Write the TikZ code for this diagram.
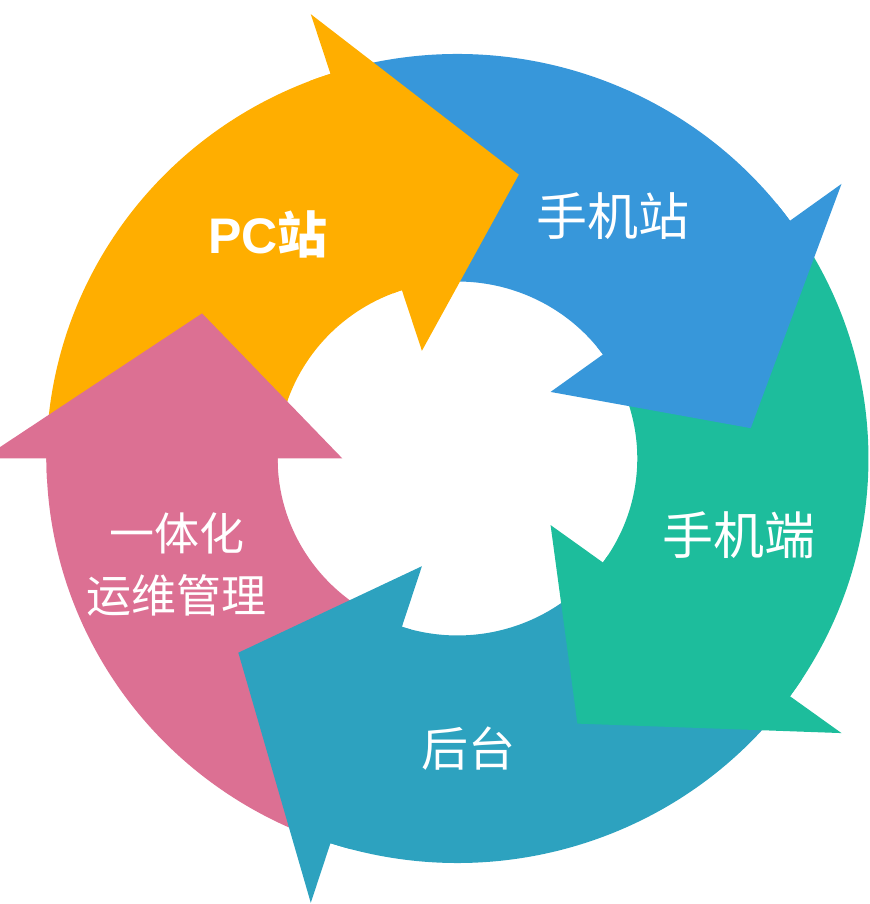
\documentclass[tikz,border=0pt]{standalone}
\usepackage{fontspec}
\setmainfont{Liberation Sans}
\newfontfamily\cjkfont{Noto Sans CJK SC}
\definecolor{pcorange}{RGB}{255,174,0}
\definecolor{siteblue}{RGB}{55,151,218}
\definecolor{appgreen}{RGB}{29,189,156}
\definecolor{backteal}{RGB}{45,162,191}
\definecolor{opspink}{RGB}{220,112,147}
\tikzset{tag/.style={white, inner sep=0pt, align=center, font=\cjkfont\fontsize{51}{60}\selectfont}}
\tikzset{smalltag/.style={tag, font=\cjkfont\fontsize{45}{62}\selectfont}}

\begin{document}
\begin{tikzpicture}[x=411pt, y=404.5pt]
\path [use as bounding box] (-1.1131,-1.1014) rectangle (1.0036,1.1335);
\clip (-1.1131,-1.1014) rectangle (1.0036,1.1335);
% ring pieces
\foreach \b/\c in {180/opspink,108/pcorange,36/siteblue,-36/appgreen,-108/backteal} {
  \fill [\c] ({\b+72}:1) arc [start angle=\b+72, end angle=\b, radius=1] -- (\b:0.4375) arc [start angle=\b, end angle=\b+72, radius=0.4375] -- cycle;
}
% heads on top of the next piece, a little back over their own piece
\foreach \b/\c in {180/opspink,108/pcorange,36/siteblue,-36/appgreen,-108/backteal} {
  \fill [\c] ({\b+3}:1) arc [start angle=\b+3, end angle=\b, radius=1] -- (\b:1.155) -- ({\b-30}:0.7175) -- (\b:0.28) -- (\b:0.4375) arc [start angle=\b, end angle=\b+3, radius=0.4375] -- cycle;
}
\node [tag, font=\fontsize{50}{60}\selectfont\bfseries] (pc) at (-0.461,0.555) {PC{\cjkfont 站}};
\node [tag] (msite) at (0.378,0.5995) {手机站};
\node [tag] (mapp) at (0.685,-0.189) {手机端};
\node [tag, font=\cjkfont\fontsize{47}{60}\selectfont] (back) at (0.028,-0.716) {后台};
\node [smalltag] (ops) at (-0.6825,-0.262) {一体化\\运维管理};
\end{tikzpicture}
\end{document}
